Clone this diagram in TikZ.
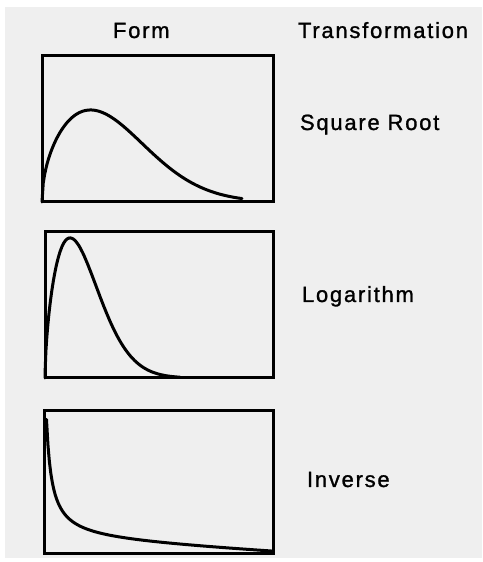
\documentclass[tikz,border=0pt]{standalone}
\usepackage{fontspec}
\setmainfont{Liberation Sans}[LetterSpace=8,FakeBold=1.2]
\usetikzlibrary{positioning}
\definecolor{paper}{HTML}{EFEFEF}

\begin{document}
\begin{tikzpicture}[x=1pt,y=1pt,
   every node/.style={inner sep=0pt,outer sep=0pt},
   label/.style={anchor=base west,font=\fontsize{22}{26}\selectfont},
   plotbox/.style={draw,line width=3pt,anchor=south west},
   curve/.style={line width=3pt,line join=round,line cap=round}]
\fill[white] (0,0) rectangle (482,562);
\useasboundingbox (0,0) rectangle (482,562);
\fill[paper] (5,4) rectangle (482,555);
% headings
\node[label] (form) at (113,524) {Form};
\node[label] (trans) at (298,524) {Transformation};
% the three forms
\node[plotbox,minimum width=231pt,minimum height=146pt] (sqbox) at (42,360) {};
\node[plotbox,minimum width=228pt,minimum height=146pt] (logbox) at (45,184) {};
\node[plotbox,minimum width=229pt,minimum height=143pt] (invbox) at (44,8) {};
\node[label] (sqroot) at (300,432) {Square Root};
\node[label] (logar) at (302,260) {Logarithm};
\node[label] (inv) at (307,75) {Inverse};
\begin{scope}[shift={(sqbox.south west)}]
\draw[curve] plot[domain=0:200,samples=160] (\x,{92*sqrt(\x/48.5)*exp(-5.67*((\x/231)^2-0.0441))});
\end{scope}
\begin{scope}[shift={(logbox.south west)}]
\draw[curve] (0,0) -- plot[domain=0.05:135,samples=160] (\x,{140*exp(0.6*(ln(\x)-3.2221)-16.33*(exp(1.75*(ln(\x)-5.4293))-0.021))});
\end{scope}
\begin{scope}[shift={(invbox.south west)}]
\draw[curve] plot[domain=2.5:229,samples=160] (\x,{671/(\x+3)+12.7*(1-\x/229)});
\end{scope}
\end{tikzpicture}
\end{document}
